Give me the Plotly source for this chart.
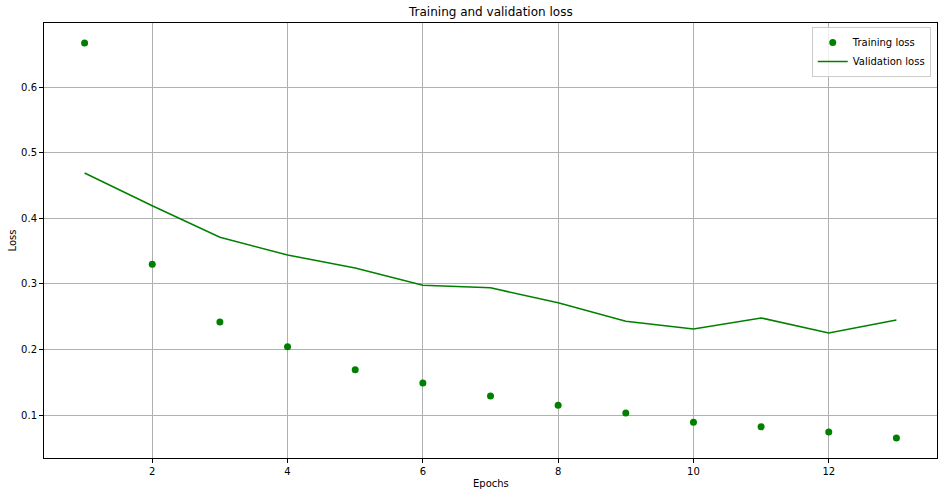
import plotly.graph_objects as go

epochs = list(range(1, 14))
training_loss = [0.667, 0.330, 0.242, 0.204, 0.169, 0.149, 0.129, 0.115, 0.103, 0.089, 0.082, 0.074, 0.065]
validation_loss = [0.469, 0.419, 0.371, 0.344, 0.324, 0.298, 0.294, 0.271, 0.243, 0.231, 0.248, 0.225, 0.245]

fig = go.Figure()

fig.add_trace(go.Scatter(
    x=epochs, y=training_loss,
    mode="markers",
    name="Training loss",
    marker=dict(color="green", size=7)
))

fig.add_trace(go.Scatter(
    x=epochs, y=validation_loss,
    mode="lines",
    name="Validation loss",
    line=dict(color="green", width=1.5)
))

axis_style = dict(
    showline=True, linecolor="black", linewidth=1, mirror=True,
    ticks="outside", ticklen=4, tickcolor="black",
    showgrid=True, gridcolor="#b0b0b0", gridwidth=1,
    zeroline=False, automargin=False,
    tickfont=dict(family="DejaVu Sans", size=10, color="black"),
)

fig.update_layout(
    width=944, height=496,
    margin=dict(l=44, r=7, t=23, b=38),
    paper_bgcolor="white",
    plot_bgcolor="white",
    font=dict(family="DejaVu Sans", size=10, color="black"),
    xaxis=dict(axis_style, range=[0.4, 13.6], tickvals=[2, 4, 6, 8, 10, 12]),
    yaxis=dict(axis_style, range=[0.0345, 0.6976], tickvals=[0.1, 0.2, 0.3, 0.4, 0.5, 0.6]),
    legend=dict(x=0.993, y=0.991, xanchor="right", yanchor="top",
                bgcolor="rgba(255,255,255,0.8)", bordercolor="#cccccc", borderwidth=1,
                font=dict(size=10)),
    showlegend=True,
)

# title and axis titles
fig.add_annotation(text="Training and validation loss", xref="paper", yref="paper",
                   x=0.5, y=1, yshift=11, xanchor="center", yanchor="middle",
                   showarrow=False, font=dict(size=12, color="black"))
fig.add_annotation(text="Epochs", xref="paper", yref="paper", x=0.5, y=0,
                   yshift=-25, xanchor="center", yanchor="middle", showarrow=False,
                   font=dict(size=10, color="black"))
fig.add_annotation(text="Loss", xref="paper", yref="paper", x=0, y=0.5,
                   xshift=-32, xanchor="center", yanchor="middle", textangle=-90,
                   showarrow=False, font=dict(size=10, color="black"))

# drop the default 8px body margin so the figure fills the window
fig.write_html("out.html", config={"displayModeBar": False},
               post_script="document.body.style.margin='0';")
